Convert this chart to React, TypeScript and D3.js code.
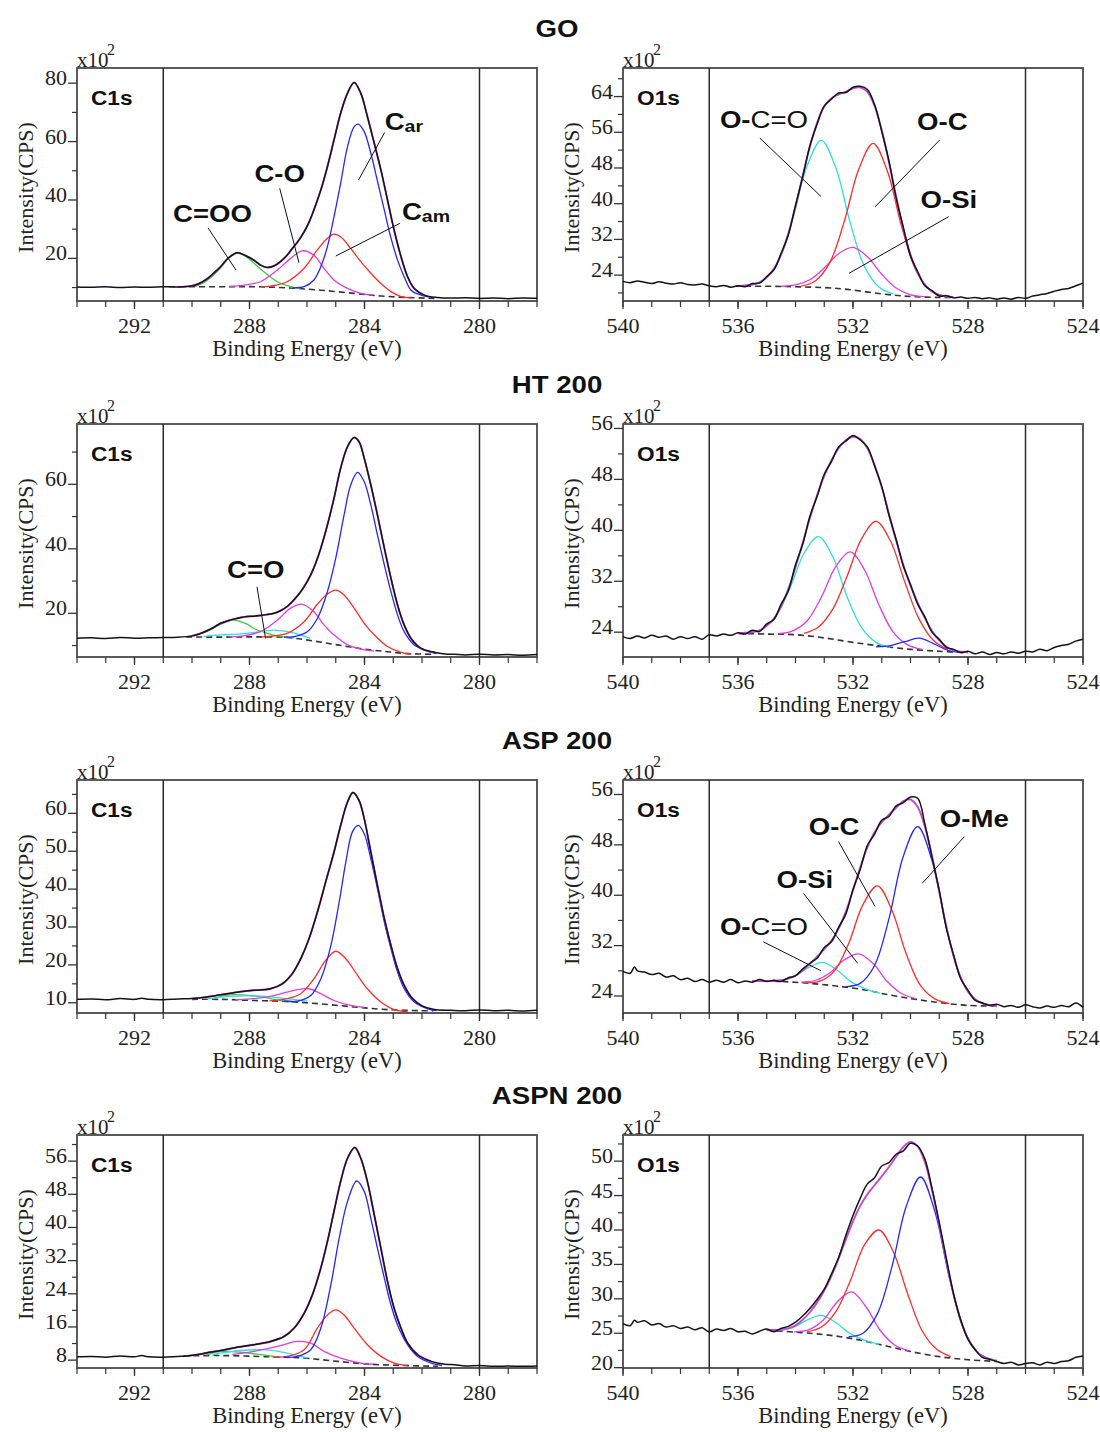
import React from "react";
import * as d3 from "d3";

type P = [number, number];

// ---------- axis / label data ----------
const sampleTitles = ["GO", "HT 200", "ASP 200", "ASPN 200"];
const c1sEnergyTicks = [292, 288, 284, 280];
const o1sEnergyTicks = [540, 536, 532, 528, 524];
const c1sMarkers = [291, 280];
const o1sMarkers = [537, 526];

// ---------- GO : C1s ----------
const goC1sRaw: P[] = [[294, 10.2], [293.5, 10.1], [293, 10.3], [292.5, 10.0], [292, 10.2], [291.5, 10.1], [291, 10.3], [290.5, 10.2], [290, 10.6], [289.75, 11.4], [289.5, 12.8], [289.25, 14.9], [289.0, 17.2], [288.75, 20.0], [288.43, 21.9], [288.15, 21.0], [287.85, 19.4], [287.6, 17.6], [287.38, 16.9], [287.15, 17.4], [286.92, 18.9], [286.7, 21.0], [286.51, 23.4], [286.3, 26.0], [286.1, 29.1], [285.92, 32.6], [285.76, 36.6], [285.52, 43.4], [285.29, 51.4], [285.06, 60.6], [284.83, 69.7], [284.59, 76.6], [284.36, 80.2], [284.13, 76.6], [283.9, 68.6], [283.66, 59.4], [283.43, 50.3], [283.2, 40.0], [282.97, 29.7], [282.73, 20.6], [282.5, 13.7], [282.27, 9.7], [281.92, 7.4], [281.45, 6.6], [281, 6.4], [280.5, 6.5], [280, 6.3], [279.5, 6.4], [279, 6.2], [278.5, 6.4], [278, 6.3]];
const goC1sBase: P[] = [[290.8, 10.3], [289.0, 10.3], [287.85, 10.3], [286.69, 9.9], [285.52, 9.1], [284.36, 8.0], [283.43, 7.1], [282.5, 6.6], [281.57, 6.3]];
const goC1sCoo: P[] = [[289.9, 10.3], [289.5, 12.3], [289.0, 16.8], [288.7, 20.4], [288.43, 21.9], [288.2, 21.2], [287.97, 19.4], [287.5, 15.4], [287.03, 12.0], [286.57, 10.3], [286.22, 9.7]];
const goC1sCo: P[] = [[288.7, 10.2], [288.2, 10.8], [287.62, 12.0], [287.03, 16.0], [286.57, 20.0], [286.16, 22.6], [285.76, 21.1], [285.41, 16.6], [285.06, 12.6], [284.59, 9.7], [284.13, 8.0], [283.7, 7.4]];
const goC1sCam: P[] = [[287.6, 10.3], [287.27, 10.5], [286.69, 12.0], [286.1, 16.6], [285.64, 22.9], [285.29, 26.9], [285.06, 28.3], [284.83, 27.4], [284.48, 23.4], [284.13, 18.9], [283.78, 14.9], [283.43, 11.4], [283.08, 8.6], [282.73, 6.9], [282.4, 6.5]];
const goC1sCar: P[] = [[286.5, 9.9], [286.1, 10.3], [285.76, 12.6], [285.52, 17.1], [285.29, 24.0], [285.06, 34.3], [284.83, 45.7], [284.59, 58.3], [284.36, 65.1], [284.22, 66.0], [284.01, 63.4], [283.78, 56.0], [283.55, 46.5], [283.31, 36.5], [283.08, 27.0], [282.85, 19.4], [282.62, 13.7], [282.38, 9.1], [282.03, 7.4], [281.6, 6.5]];

// ---------- GO : O1s ----------
const goO1sRaw: P[] = [[540, 22.6], [539.75, 22.3], [539.5, 22.7], [539.25, 22.4], [539, 22.1], [538.75, 22.5], [538.5, 22.2], [538.25, 22.0], [538, 22.3], [537.75, 21.9], [537.5, 21.8], [537.25, 22.0], [537, 21.6], [536.75, 21.4], [536.5, 21.7], [536.25, 21.3], [536, 21.6], [535.75, 21.4], [535.5, 22.1], [535.25, 22.2], [535, 23.7], [534.75, 25.2], [534.5, 28.9], [534.25, 33.0], [534, 39.6], [533.75, 46.0], [533.5, 53.0], [533.25, 57.8], [533, 61.9], [532.75, 63.4], [532.5, 64.8], [532.25, 64.9], [532, 66.1], [531.75, 66.3], [531.5, 65.6], [531.25, 62.2], [531, 56.2], [530.75, 49.6], [530.5, 41.3], [530.25, 34.7], [530, 28.3], [529.75, 24.8], [529.5, 21.6], [529.25, 20.5], [529, 19.3], [528.75, 19.4], [528.5, 18.9], [528.25, 19.1], [528, 18.8], [527.75, 19.0], [527.5, 18.7], [527.25, 18.9], [527, 18.6], [526.75, 18.9], [526.5, 18.6], [526.25, 19.0], [526, 18.8], [525.75, 19.3], [525.5, 19.6], [525.25, 19.9], [525, 20.4], [524.75, 20.8], [524.5, 21.0], [524.25, 21.6], [524, 22.2]];
const goO1sFit: P[] = [[536, 21.55], [535.5, 21.9], [535.25, 22.4], [535, 23.5], [534.75, 25.4], [534.5, 28.6], [534.25, 33.3], [534, 39.4], [533.75, 46.2], [533.5, 52.7], [533.25, 58.1], [533, 61.75], [532.75, 63.65], [532.5, 64.5], [532.25, 65.1], [532, 65.85], [531.75, 66.05], [531.5, 65.05], [531.25, 61.9], [531, 56.45], [530.75, 49.3], [530.5, 41.6], [530.25, 34.4], [530, 28.6], [529.75, 24.5], [529.5, 21.85], [529.25, 20.3], [529, 19.55], [528.75, 19.2], [528.5, 19.1]];
const goO1sBase: P[] = [[536.1, 21.5], [535, 21.5], [534, 21.4], [533, 21.2], [532.2, 20.8], [531, 19.8], [530, 19.2], [529, 19.0], [528.5, 19.0]];
const goO1sOcco: P[] = [[535.6, 21.75], [535.1, 22.95], [534.6, 27.15], [534.1, 36.5], [533.6, 48.4], [533.1, 54.2], [532.6, 48.1], [532.1, 35.8], [531.6, 25.9], [531.1, 21.35], [530.6, 19.75]];
const goO1sOsi: P[] = [[534.5, 21.5], [534, 21.8], [533.5, 22.95], [533, 25.6], [532.5, 28.8], [532, 30.2], [531.5, 28.1], [531, 24.2], [530.5, 21.1], [530, 19.6], [529.5, 19.2]];
const goO1sOc: P[] = [[533.8, 21.55], [533.3, 22.75], [532.8, 26.9], [532.3, 36.1], [531.8, 47.7], [531.3, 53.5], [530.8, 47.2], [530.3, 34.65], [529.8, 24.95], [529.3, 20.55], [528.8, 19.25]];

// ---------- HT 200 : C1s ----------
const htC1sRaw: P[] = [[294, 12.3], [293.5, 12.4], [293, 12.2], [292.5, 12.5], [292, 12.3], [291.5, 12.4], [291, 12.5], [290.5, 12.6], [290, 13.0], [289.75, 13.6], [289.5, 14.5], [289.25, 15.6], [289.01, 16.9], [288.75, 17.7], [288.55, 18.2], [288.3, 18.7], [288.08, 19.0], [287.85, 19.1], [287.62, 19.3], [287.4, 19.6], [287.15, 20.0], [286.92, 20.8], [286.69, 22.1], [286.45, 24.2], [286.22, 26.7], [286.05, 29.0], [285.87, 31.9], [285.7, 35.5], [285.52, 40.2], [285.29, 47.4], [285.06, 55.7], [284.83, 65.0], [284.59, 71.7], [284.36, 74.5], [284.19, 73.2], [284.01, 68.1], [283.78, 59.8], [283.55, 50.5], [283.31, 40.2], [283.08, 30.9], [282.85, 22.6], [282.62, 16.4], [282.38, 12.2], [282.03, 9.1], [281.57, 7.9], [281.2, 7.4], [280.87, 7.3], [280.5, 7.1], [280, 7.3], [279.5, 7.1], [279, 7.2], [278.5, 7.0], [278, 7.2]];
const htC1sBase: P[] = [[290.2, 12.7], [289.01, 12.6], [287.85, 12.7], [286.69, 12.5], [285.76, 11.4], [284.94, 10.2], [284.01, 8.9], [283.2, 8.1], [282.5, 7.5], [281.57, 7.3]];
const htC1sGreen: P[] = [[290.0, 12.9], [289.5, 14.3], [289.0, 16.6], [288.55, 17.9], [288.1, 16.7], [287.85, 15.3], [287.38, 13.8], [286.92, 12.8], [286.45, 12.5]];
const htC1sCyan: P[] = [[289.6, 12.8], [289.0, 13.3], [288.3, 13.6], [287.62, 14.3], [287.15, 14.8], [286.69, 14.3], [286.22, 13.3], [285.9, 12.2]];
const htC1sMag: P[] = [[288.7, 12.7], [288.31, 12.9], [287.62, 14.3], [287.03, 17.9], [286.57, 21.6], [286.16, 22.8], [285.76, 20.5], [285.41, 16.4], [285.06, 13.3], [284.59, 10.2], [284.13, 8.9], [283.66, 8.3]];
const htC1sRed: P[] = [[287.6, 12.7], [287.27, 12.9], [286.69, 13.8], [286.1, 17.4], [285.64, 22.8], [285.29, 26.0], [285.0, 27.2], [284.71, 25.7], [284.36, 21.6], [284.01, 16.9], [283.66, 13.3], [283.2, 9.7], [282.73, 7.9], [282.38, 7.3]];
const htC1sBlue: P[] = [[286.8, 12.6], [286.45, 12.8], [285.99, 14.3], [285.64, 18.4], [285.29, 26.7], [285.0, 37.1], [284.71, 50.5], [284.48, 59.8], [284.24, 63.7], [284.01, 60.8], [283.78, 53.6], [283.55, 44.3], [283.31, 35.0], [283.08, 26.7], [282.85, 19.5], [282.62, 14.3], [282.27, 10.2], [281.8, 8.3], [281.5, 7.5]];

// ---------- HT 200 : O1s ----------
const htO1sRaw: P[] = [[540, 23.3], [539.75, 23.0], [539.5, 23.4], [539.25, 23.1], [539, 23.5], [538.75, 23.2], [538.5, 23.4], [538.25, 22.9], [538, 23.3], [537.75, 23.0], [537.5, 23.3], [537.25, 22.9], [537, 23.6], [536.75, 23.4], [536.5, 23.7], [536.25, 23.5], [536, 23.9], [535.75, 23.7], [535.5, 24.3], [535.25, 24.1], [535, 25.3], [534.75, 26.0], [534.5, 28.4], [534.25, 30.5], [534, 34.6], [533.75, 37.8], [533.5, 42.2], [533.25, 45.3], [533, 48.8], [532.75, 50.8], [532.5, 53.1], [532.25, 54.0], [532, 54.9], [531.75, 54.2], [531.5, 53.1], [531.25, 50.1], [531, 46.9], [530.75, 42.4], [530.5, 38.6], [530.25, 34.4], [530, 31.5], [529.75, 28.4], [529.5, 26.4], [529.25, 24.0], [529, 22.9], [528.75, 21.6], [528.5, 21.3], [528.25, 20.8], [528, 21.0], [527.75, 20.6], [527.5, 20.9], [527.25, 20.5], [527, 20.8], [526.75, 20.6], [526.5, 20.9], [526.25, 20.7], [526, 21.0], [525.75, 20.9], [525.5, 21.3], [525.25, 21.1], [525, 21.6], [524.75, 21.9], [524.5, 22.1], [524.25, 22.6], [524, 22.9]];
const htO1sFit: P[] = [[536, 23.85], [535.75, 23.9], [535.5, 24.0], [535.25, 24.3], [535, 25.0], [534.75, 26.15], [534.5, 28.05], [534.25, 30.75], [534, 34.2], [533.75, 38.0], [533.5, 41.9], [533.25, 45.5], [533, 48.55], [532.75, 51.0], [532.5, 52.9], [532.25, 54.15], [532, 54.7], [531.75, 54.35], [531.5, 52.9], [531.25, 50.3], [531, 46.75], [530.75, 42.6], [530.5, 38.4], [530.25, 34.6], [530, 31.3], [529.75, 28.6], [529.5, 26.2], [529.25, 24.2], [529, 22.7], [528.75, 21.7], [528.5, 21.15], [528.25, 20.95], [528, 20.85]];
const htO1sBase: P[] = [[536, 23.8], [535, 23.7], [534, 23.6], [533, 23.1], [532, 22.4], [531, 21.8], [530, 21.3], [529, 21.0], [528, 20.8]];
const htO1sCyan: P[] = [[535.7, 23.9], [535.2, 24.4], [534.7, 26.4], [534.2, 30.85], [533.7, 36.4], [533.2, 39.0], [532.7, 35.8], [532.2, 29.5], [531.7, 24.7], [531.2, 22.4], [530.7, 21.6]];
const htO1sMag: P[] = [[534.6, 23.75], [534.1, 24.2], [533.6, 25.75], [533.1, 29.5], [532.6, 34.3], [532.1, 36.6], [531.6, 33.8], [531.1, 28.3], [530.6, 24.0], [530.1, 22.0], [529.6, 21.3]];
const htO1sRed: P[] = [[533.7, 23.8], [533.2, 24.8], [532.7, 27.65], [532.2, 32.85], [531.7, 38.7], [531.2, 41.4], [530.7, 38.35], [530.2, 31.9], [529.7, 26.05], [529.2, 22.7], [528.7, 21.3]];
const htO1sBlue: P[] = [[531.2, 21.7], [530.7, 21.9], [530.2, 22.5], [529.7, 23.05], [529.2, 22.2], [528.7, 21.15], [528.2, 20.8]];

// ---------- ASP 200 : C1s ----------
const aspC1sRaw: P[] = [[294, 10.9], [293.5, 11.0], [293, 10.8], [292.5, 11.1], [292, 10.9], [291.75, 11.2], [291.5, 10.9], [291, 10.8], [290.5, 11.0], [290, 11.1], [289.5, 11.5], [289.01, 12.1], [288.43, 12.8], [287.85, 13.3], [287.27, 13.7], [286.86, 15.0], [286.51, 17.7], [286.22, 21.6], [285.93, 26.9], [285.64, 33.9], [285.35, 41.9], [285.06, 49.8], [284.83, 56.8], [284.59, 63.0], [284.4, 65.5], [284.19, 63.4], [284.01, 58.6], [283.78, 49.8], [283.55, 41.0], [283.31, 32.2], [283.08, 25.1], [282.85, 19.0], [282.62, 14.6], [282.33, 11.1], [282.03, 9.3], [281.57, 8.2], [281, 8.0], [280.5, 7.9], [280, 8.1], [279.5, 7.9], [279, 8.0], [278.5, 7.8], [278, 8.0]];
const aspC1sBase: P[] = [[290.0, 10.9], [289.01, 10.9], [287.85, 10.6], [286.69, 10.35], [285.52, 9.7], [284.36, 8.9], [283.2, 8.2], [282.03, 7.9], [281.6, 7.9]];
const aspC1sGreen: P[] = [[289.3, 11.0], [289.01, 11.6], [288.7, 12.1], [288.3, 12.1], [287.62, 11.6], [286.92, 10.6], [286.5, 10.4]];
const aspC1sCyan: P[] = [[289.5, 11.0], [289.01, 11.5], [288.2, 11.8], [287.5, 11.7], [286.69, 11.1], [286.0, 10.4]];
const aspC1sMag: P[] = [[288.5, 10.8], [287.85, 11.1], [287.15, 11.9], [286.45, 13.3], [285.93, 13.7], [285.52, 12.4], [285.06, 10.6], [284.48, 9.3], [284.0, 8.8]];
const aspC1sRed: P[] = [[287.3, 10.5], [286.69, 11.1], [286.22, 12.4], [285.76, 16.3], [285.35, 21.2], [285.0, 23.6], [284.65, 21.6], [284.24, 17.2], [283.9, 13.7], [283.43, 10.2], [282.97, 8.2], [282.5, 7.7]];
const aspC1sBlue: P[] = [[286.8, 10.4], [286.34, 10.4], [285.87, 11.9], [285.52, 16.3], [285.17, 25.1], [284.88, 36.6], [284.65, 47.1], [284.42, 55.1], [284.22, 56.8], [284.01, 54.6], [283.78, 48.0], [283.55, 40.1], [283.31, 31.3], [283.08, 24.3], [282.85, 18.1], [282.62, 13.7], [282.27, 10.2], [281.8, 8.4], [281.5, 7.9]];

// ---------- ASP 200 : O1s ----------
const aspO1sRaw: P[] = [[540, 27.9], [539.75, 27.6], [539.6, 28.6], [539.5, 28.0], [539.25, 27.8], [539, 27.4], [538.75, 27.6], [538.5, 27.0], [538.25, 27.2], [538, 26.6], [537.75, 26.8], [537.5, 26.3], [537.25, 26.6], [537, 26.2], [536.75, 26.5], [536.5, 26.2], [536.25, 26.6], [536, 26.1], [535.75, 26.4], [535.5, 26.2], [535.25, 26.6], [535, 26.3], [534.75, 26.5], [534.5, 26.3], [534.25, 26.9], [534, 27.2], [533.75, 28.3], [533.5, 29.2], [533.25, 30.0], [533, 31.7], [532.75, 32.6], [532.5, 34.9], [532.25, 37.0], [532, 40.9], [531.75, 44.1], [531.5, 47.9], [531.25, 49.7], [531, 51.9], [530.75, 52.5], [530.5, 54.2], [530.25, 54.7], [530, 55.6], [529.75, 55.4], [529.5, 51.3], [529.25, 46.0], [529, 40.8], [528.75, 34.7], [528.5, 30.5], [528.25, 26.7], [528, 24.9], [527.75, 23.3], [527.5, 22.9], [527.25, 22.5], [527, 22.7], [526.75, 22.3], [526.5, 22.5], [526.25, 22.2], [526, 22.6], [525.75, 22.3], [525.5, 22.1], [525.25, 22.4], [525, 22.2], [524.75, 22.5], [524.5, 22.3], [524.25, 22.9], [524, 22.2]];
const aspO1sFit: P[] = [[535.5, 26.4], [535, 26.37], [534.5, 26.5], [534.25, 26.75], [534, 27.25], [533.75, 28.05], [533.5, 29.1], [533.25, 30.25], [533, 31.45], [532.75, 32.8], [532.5, 34.7], [532.25, 37.4], [532, 40.8], [531.75, 44.4], [531.5, 47.6], [531.25, 50.0], [531, 51.6], [530.75, 52.8], [530.5, 53.9], [530.25, 54.95], [530, 55.2], [529.75, 54.0], [529.5, 50.9], [529.25, 46.2], [529, 40.5], [528.75, 35.0], [528.5, 30.3], [528.25, 26.9], [528, 24.7], [527.75, 23.5], [527.5, 22.85], [527.25, 22.6], [527, 22.45]];
const aspO1sBase: P[] = [[535.5, 26.4], [534.5, 26.3], [533.5, 26.0], [532.5, 25.55], [531.5, 24.9], [531, 24.4], [530, 23.6], [529, 22.95], [528, 22.5], [527, 22.4]];
const aspO1sOcco: P[] = [[534.55, 26.45], [534.05, 27.1], [533.55, 28.5], [533.05, 29.35], [532.55, 28.1], [532.05, 26.2], [531.55, 25.1], [531.05, 24.45]];
const aspO1sOsi: P[] = [[533.8, 26.2], [533.3, 26.5], [532.8, 27.7], [532.3, 29.75], [531.8, 30.7], [531.3, 29.15], [530.8, 26.25], [530.3, 24.35], [529.8, 23.55]];
const aspO1sOc: P[] = [[533.65, 26.1], [533.15, 26.35], [532.65, 27.95], [532.15, 32.35], [531.65, 38.55], [531.15, 41.5], [530.65, 37.65], [530.15, 30.7], [529.65, 25.65], [529.15, 23.55], [528.65, 22.8]];
const aspO1sOme: P[] = [[532.25, 25.5], [531.75, 26.0], [531.25, 28.85], [530.75, 36.25], [530.25, 46.2], [529.75, 50.9], [529.25, 45.5], [528.75, 34.9], [528.25, 26.85], [527.75, 23.45], [527.25, 22.55]];

// ---------- ASPN 200 : C1s ----------
const aspnC1sRaw: P[] = [[294, 8.8], [293.5, 8.9], [293, 8.7], [292.5, 9.0], [292, 8.8], [291.75, 9.1], [291.5, 8.8], [291, 8.7], [290.5, 8.9], [290.2, 9.0], [289.75, 9.4], [289.4, 9.9], [289.01, 10.3], [288.43, 11.1], [287.85, 11.7], [287.27, 12.5], [286.8, 13.7], [286.45, 15.7], [286.1, 19.3], [285.81, 23.8], [285.52, 30.2], [285.29, 36.6], [285.06, 43.9], [284.83, 51.1], [284.59, 56.7], [284.34, 59.3], [284.13, 56.7], [283.9, 51.1], [283.66, 43.0], [283.43, 35.0], [283.2, 27.0], [282.97, 20.5], [282.73, 15.7], [282.5, 12.1], [282.15, 9.3], [281.68, 7.7], [281.2, 7.0], [280.87, 6.9], [280.5, 6.6], [280, 6.7], [279.5, 6.5], [279, 6.6], [278.5, 6.5], [278, 6.6]];
const aspnC1sBase: P[] = [[290.3, 9.0], [289.01, 9.1], [287.27, 8.8], [286.1, 8.5], [284.94, 7.7], [283.78, 7.0], [282.62, 6.7], [281.45, 6.5]];
const aspnC1sGreen: P[] = [[289.5, 9.2], [289.01, 10.1], [288.5, 10.0], [287.9, 9.6], [287.38, 9.1], [287.0, 8.8]];
const aspnC1sCyan: P[] = [[289.3, 9.2], [289.01, 9.7], [287.85, 10.5], [287.15, 10.3], [286.45, 9.3], [285.99, 8.5]];
const aspnC1sMag: P[] = [[288.6, 9.3], [287.85, 10.1], [287.03, 11.3], [286.34, 12.5], [285.87, 12.1], [285.41, 10.1], [284.83, 8.5], [284.13, 7.3], [283.7, 7.0]];
const aspnC1sRed: P[] = [[287.2, 8.8], [286.69, 8.9], [286.1, 10.5], [285.64, 15.7], [285.29, 18.9], [285.0, 20.1], [284.71, 18.9], [284.36, 15.7], [283.9, 11.7], [283.43, 8.9], [282.97, 7.3], [282.5, 6.7]];
const aspnC1sBlue: P[] = [[286.8, 8.7], [286.34, 8.9], [285.87, 10.5], [285.52, 15.7], [285.17, 26.2], [284.88, 37.4], [284.59, 46.3], [284.27, 51.2], [284.01, 48.7], [283.78, 42.2], [283.55, 35.0], [283.31, 27.8], [283.08, 21.3], [282.85, 16.5], [282.5, 11.7], [282.15, 8.9], [281.68, 7.3], [281.3, 6.7]];

// ---------- ASPN 200 : O1s ----------
const aspnO1sRaw: P[] = [[540, 26.4], [539.75, 26.1], [539.6, 26.9], [539.5, 26.6], [539.25, 26.8], [539, 26.2], [538.75, 26.4], [538.5, 25.9], [538.25, 26.1], [538, 25.7], [537.75, 25.9], [537.5, 25.5], [537.25, 25.8], [537, 25.2], [536.75, 25.6], [536.5, 25.4], [536.25, 25.7], [536, 25.2], [535.75, 25.3], [535.5, 24.9], [535.25, 25.3], [535, 25.6], [534.75, 25.2], [534.5, 25.7], [534.25, 26.0], [534, 26.6], [533.75, 27.5], [533.5, 28.6], [533.25, 29.9], [533, 31.4], [532.75, 33.6], [532.5, 36.0], [532.25, 39.2], [532, 42.1], [531.75, 44.6], [531.5, 46.7], [531.25, 47.6], [531, 49.3], [530.75, 49.8], [530.5, 51.0], [530.25, 51.5], [530, 52.6], [529.75, 52.2], [529.5, 50.3], [529.25, 46.0], [529, 41.1], [528.75, 35.8], [528.5, 30.7], [528.25, 26.9], [528, 24.1], [527.75, 22.6], [527.5, 21.5], [527.25, 21.2], [527, 20.9], [526.75, 20.6], [526.5, 20.8], [526.25, 20.4], [526, 20.6], [525.75, 20.7], [525.5, 20.4], [525.25, 20.8], [525, 20.6], [524.75, 20.9], [524.5, 21.0], [524.25, 21.5], [524, 21.7]];
const aspnO1sFit: P[] = [[535, 25.5], [534.5, 25.5], [534.25, 25.7], [534, 26.15], [533.75, 26.95], [533.5, 28.05], [533.25, 29.45], [533, 31.2], [532.75, 33.3], [532.5, 35.85], [532.25, 38.6], [532, 41.25], [531.75, 43.5], [531.5, 45.2], [531.25, 46.5], [531, 47.8], [530.75, 49.15], [530.5, 50.65], [530.25, 52.05], [530, 52.8], [529.75, 52.15], [529.5, 49.85], [529.25, 45.8], [529, 40.7], [528.75, 35.4], [528.5, 30.6], [528.25, 26.8], [528, 24.2], [527.75, 22.6], [527.5, 21.7], [527.25, 21.25], [527, 21.0]];
const aspnO1sBase: P[] = [[535, 25.45], [534, 25.15], [533, 24.8], [532, 24.2], [531, 23.3], [530, 22.35], [529, 21.6], [528, 21.15], [527, 20.9]];
const aspnO1sCyan: P[] = [[534.6, 25.4], [534.1, 25.8], [533.6, 26.9], [533.1, 27.6], [532.6, 26.55], [532.1, 24.95], [531.6, 24.0], [531.1, 23.4]];
const aspnO1sMag: P[] = [[534.05, 25.2], [533.55, 25.5], [533.05, 26.85], [532.55, 29.55], [532.05, 31.0], [531.55, 28.85], [531.05, 25.4], [530.55, 23.3], [530.05, 22.45]];
const aspnO1sRed: P[] = [[533.6, 25.2], [533.1, 25.9], [532.6, 28.1], [532.1, 32.55], [531.6, 37.85], [531.1, 40.0], [530.6, 36.85], [530.1, 30.75], [529.6, 25.4], [529.1, 22.7], [528.6, 21.6]];
const aspnO1sBlue: P[] = [[532.15, 24.5], [531.65, 25.0], [531.15, 27.85], [530.65, 34.6], [530.15, 43.4], [529.65, 47.7], [529.15, 42.65], [528.65, 33.1], [528.15, 25.6], [527.65, 22.15], [527.15, 21.15]];

// ---------- annotations (data coordinates) ----------
type Note = { text: string; reg?: string; sub?: string; x: number; y: number; line: number[] };
const goC1sNotes: Note[] = [
  { text: "C=OO", x: 290.66, y: 32.4, line: [289.44, 30.4, 288.47, 16.0] },
  { text: "C-O", x: 287.83, y: 46.3, line: [286.95, 44.0, 286.28, 18.5] },
  { text: "C", sub: "ar", x: 283.3, y: 64.0, line: [283.3, 63.1, 284.21, 46.8] },
  { text: "C", sub: "am", x: 282.7, y: 33.1, line: [282.77, 32.0, 285.0, 20.8] },
];
const goO1sNotes: Note[] = [
  { text: "O-", reg: "C=O", x: 536.63, y: 56.9, line: [535.24, 54.7, 533.11, 41.6] },
  { text: "O-C", x: 529.77, y: 56.4, line: [528.98, 54.3, 531.23, 39.3] },
  { text: "O-Si", x: 529.65, y: 39.0, line: [528.67, 37.1, 532.14, 24.4] },
];
const htC1sNotes: Note[] = [{ text: "C=O", x: 288.78, y: 30.85, line: [287.74, 28.2, 287.44, 12.2] }];
const aspO1sNotes: Note[] = [
  { text: "O-Me", x: 528.98, y: 50.9, line: [528.13, 49.3, 529.59, 41.9] },
  { text: "O-C", x: 533.54, y: 49.6, line: [532.5, 48.5, 531.23, 38.2] },
  { text: "O-Si", x: 534.66, y: 41.1, line: [533.72, 40.3, 531.84, 29.2] },
  { text: "O-", reg: "C=O", x: 536.63, y: 33.7, line: [535.12, 32.6, 533.11, 28.0] },
];

// ---------- style ----------
const W = 460;
const H = 233;
const COL_X = [77, 623];
const ROW_Y = [68, 424, 780, 1135];
const SERIF = "'Liberation Serif','Times New Roman',serif";
const SANS = "'Liberation Sans',Arial,sans-serif";
const COL = {
  green: "#35cc3a",
  cyan: "#30dede",
  magenta: "#e03ce0",
  red: "#ff2b2b",
  blue: "#2626ff",
  fit: "#c24ad0",
  raw: "#141218",
  base: "#333333",
};

type Comp = { pts: P[]; color: string };
type Cfg = {
  row: number; col: number; label: string;
  xDomain: [number, number]; yDomain: [number, number];
  yMajor: number[]; yMinor: number[];
  raw: P[]; fit?: P[]; base: P[]; comps: Comp[]; notes: Note[];
};

const panels: Cfg[] = [
  { row: 0, col: 0, label: "C1s", xDomain: [294, 278], yDomain: [5.4, 85.2], yMajor: [20, 40, 60, 80], yMinor: [10, 30, 50, 70], raw: goC1sRaw, base: goC1sBase,
    comps: [{ pts: goC1sCoo, color: COL.green }, { pts: goC1sCo, color: COL.magenta }, { pts: goC1sCam, color: COL.red }, { pts: goC1sCar, color: COL.blue }], notes: goC1sNotes },
  { row: 0, col: 1, label: "O1s", xDomain: [540, 524], yDomain: [18.2, 70.4], yMajor: [24, 32, 40, 48, 56, 64], yMinor: [20, 28, 36, 44, 52, 60, 68], raw: goO1sRaw, fit: goO1sFit, base: goO1sBase,
    comps: [{ pts: goO1sOcco, color: COL.cyan }, { pts: goO1sOsi, color: COL.magenta }, { pts: goO1sOc, color: COL.red }], notes: goO1sNotes },
  { row: 1, col: 0, label: "C1s", xDomain: [294, 278], yDomain: [6.45, 78.7], yMajor: [20, 40, 60], yMinor: [10, 30, 50, 70], raw: htC1sRaw, base: htC1sBase,
    comps: [{ pts: htC1sGreen, color: COL.green }, { pts: htC1sCyan, color: COL.cyan }, { pts: htC1sMag, color: COL.magenta }, { pts: htC1sRed, color: COL.red }, { pts: htC1sBlue, color: COL.blue }], notes: htC1sNotes },
  { row: 1, col: 1, label: "O1s", xDomain: [540, 524], yDomain: [20.1, 56.7], yMajor: [24, 32, 40, 48, 56], yMinor: [28, 36, 44, 52], raw: htO1sRaw, fit: htO1sFit, base: htO1sBase,
    comps: [{ pts: htO1sCyan, color: COL.cyan }, { pts: htO1sMag, color: COL.magenta }, { pts: htO1sRed, color: COL.red }, { pts: htO1sBlue, color: COL.blue }], notes: [] },
  { row: 2, col: 0, label: "C1s", xDomain: [294, 278], yDomain: [7.3, 68.8], yMajor: [10, 20, 30, 40, 50, 60], yMinor: [15, 25, 35, 45, 55, 65], raw: aspC1sRaw, base: aspC1sBase,
    comps: [{ pts: aspC1sGreen, color: COL.green }, { pts: aspC1sCyan, color: COL.cyan }, { pts: aspC1sMag, color: COL.magenta }, { pts: aspC1sRed, color: COL.red }, { pts: aspC1sBlue, color: COL.blue }], notes: [] },
  { row: 2, col: 1, label: "O1s", xDomain: [540, 524], yDomain: [21.3, 58.3], yMajor: [24, 32, 40, 48, 56], yMinor: [28, 36, 44, 52], raw: aspO1sRaw, fit: aspO1sFit, base: aspO1sBase,
    comps: [{ pts: aspO1sOcco, color: COL.cyan }, { pts: aspO1sOsi, color: COL.magenta }, { pts: aspO1sOc, color: COL.red }, { pts: aspO1sOme, color: COL.blue }], notes: aspO1sNotes },
  { row: 3, col: 0, label: "C1s", xDomain: [294, 278], yDomain: [6.1, 62.3], yMajor: [8, 16, 24, 32, 40, 48, 56], yMinor: [12, 20, 28, 36, 44, 52, 60], raw: aspnC1sRaw, base: aspnC1sBase,
    comps: [{ pts: aspnC1sGreen, color: COL.green }, { pts: aspnC1sCyan, color: COL.cyan }, { pts: aspnC1sMag, color: COL.magenta }, { pts: aspnC1sRed, color: COL.red }, { pts: aspnC1sBlue, color: COL.blue }], notes: [] },
  { row: 3, col: 1, label: "O1s", xDomain: [540, 524], yDomain: [19.95, 53.8], yMajor: [20, 25, 30, 35, 40, 45, 50], yMinor: [22.5, 27.5, 32.5, 37.5, 42.5, 47.5, 52.5], raw: aspnO1sRaw, fit: aspnO1sFit, base: aspnO1sBase,
    comps: [{ pts: aspnO1sCyan, color: COL.cyan }, { pts: aspnO1sMag, color: COL.magenta }, { pts: aspnO1sRed, color: COL.red }, { pts: aspnO1sBlue, color: COL.blue }], notes: [] },
];

function Panel({ cfg }: { cfg: Cfg }) {
  const left = COL_X[cfg.col];
  const top = ROW_Y[cfg.row];
  const bottom = top + H;
  const isC = cfg.col === 0;
  const x = d3.scaleLinear().domain(cfg.xDomain).range([left, left + W]);
  const y = d3.scaleLinear().domain(cfg.yDomain).range([bottom, top]);
  const line = d3.line<P>().x((d) => x(d[0])).y((d) => y(d[1])).curve(d3.curveCatmullRom.alpha(0.5));
  const majorX = isC ? c1sEnergyTicks : o1sEnergyTicks;
  const minorX = x.ticks(16);
  const markers = isC ? c1sMarkers : o1sMarkers;
  const bHi = cfg.base[0][0];
  const bLo = cfg.base[cfg.base.length - 1][0];
  const fit = cfg.fit ?? cfg.raw.filter((d) => d[0] <= bHi + 0.01 && d[0] >= bLo - 0.01);

  return (
    <g>
      <rect x={left} y={top} width={W} height={H} fill="none" stroke="#4a4a4a" strokeWidth={1.8} />
      {markers.map((m) => (
        <line key={m} x1={x(m)} x2={x(m)} y1={top} y2={bottom} stroke="#2a2a2a" strokeWidth={1.5} />
      ))}
      {minorX.map((t) => (
        <line key={"mx" + t} x1={x(t)} x2={x(t)} y1={bottom} y2={bottom + 6} stroke="#333" strokeWidth={1.2} />
      ))}
      {majorX.map((t) => (
        <g key={"Mx" + t}>
          <line x1={x(t)} x2={x(t)} y1={bottom} y2={bottom + 8} stroke="#333" strokeWidth={1.3} />
          <text x={x(t)} y={bottom + 32} textAnchor="middle" fontFamily={SERIF} fontSize={22} fill="#222">{t}</text>
        </g>
      ))}
      {cfg.yMinor.filter((v) => v >= cfg.yDomain[0] && v <= cfg.yDomain[1]).map((v) => (
        <line key={"my" + v} x1={left - 5} x2={left} y1={y(v)} y2={y(v)} stroke="#333" strokeWidth={1.2} />
      ))}
      {cfg.yMajor.map((v) => (
        <g key={"My" + v}>
          <line x1={left - 9} x2={left} y1={y(v)} y2={y(v)} stroke="#333" strokeWidth={1.3} />
          <text x={left - 10} y={y(v) + 2} textAnchor="end" fontFamily={SERIF} fontSize={22} fill="#222">{v}</text>
        </g>
      ))}
      <text x={left + W / 2} y={bottom + 55} textAnchor="middle" fontFamily={SERIF} fontSize={22.5} fill="#222">Binding Energy (eV)</text>
      <text transform={`translate(${left - 44},${top + H / 2 + 3}) rotate(-90)`} textAnchor="middle" fontFamily={SERIF} fontSize={22} fill="#222">Intensity(CPS)</text>
      <text x={left} y={top - 1} fontFamily={SERIF} fontSize={21} fill="#222">x10</text>
      <text x={left + 30} y={top - 13} fontFamily={SERIF} fontSize={16} fill="#222">2</text>
      <g transform={`translate(${left + 14},${top + 37}) scale(1.08,1)`}>
        <text fontFamily={SANS} fontWeight="bold" fontSize={21} fill="#111">{cfg.label}</text>
      </g>
      <path d={line(cfg.base) || ""} fill="none" stroke={COL.base} strokeWidth={1.6} strokeDasharray="6,4" />
      {cfg.comps.map((c, i) => (
        <path key={i} d={line(c.pts) || ""} fill="none" stroke={c.color} strokeWidth={1.3} />
      ))}
      <path d={line(fit) || ""} fill="none" stroke={COL.fit} strokeWidth={1.9} />
      <path d={line(cfg.raw) || ""} fill="none" stroke={COL.raw} strokeWidth={1.5} />
      {cfg.notes.map((n, i) => (
        <g key={"n" + i}>
          <line x1={x(n.line[0])} y1={y(n.line[1])} x2={x(n.line[2])} y2={y(n.line[3])} stroke="#111" strokeWidth={1} />
          <g transform={`translate(${x(n.x)},${y(n.y)}) scale(1.15,1)`}>
            <text fontFamily={SANS} fontWeight="bold" fontSize={24} fill="#111">
              {n.text}
              {n.reg ? <tspan fontWeight="normal">{n.reg}</tspan> : null}
              {n.sub ? <tspan fontSize={17} dy={2}>{n.sub}</tspan> : null}
            </text>
          </g>
        </g>
      ))}
    </g>
  );
}

export default function App() {
  return (
    <svg width={1100} height={1432} viewBox="0 0 1100 1432" style={{ position: "absolute", left: 0, top: 0, background: "#fff" }}>
      <rect x={0} y={0} width={1100} height={1432} fill="#fff" />
      {sampleTitles.map((t, i) => (
        <g key={t} transform={`translate(557,${ROW_Y[i] - 31}) scale(1.15,1)`}>
          <text textAnchor="middle" fontFamily={SANS} fontWeight="bold" fontSize={24} fill="#111">{t}</text>
        </g>
      ))}
      {panels.map((p, i) => (
        <Panel key={i} cfg={p} />
      ))}
    </svg>
  );
}
